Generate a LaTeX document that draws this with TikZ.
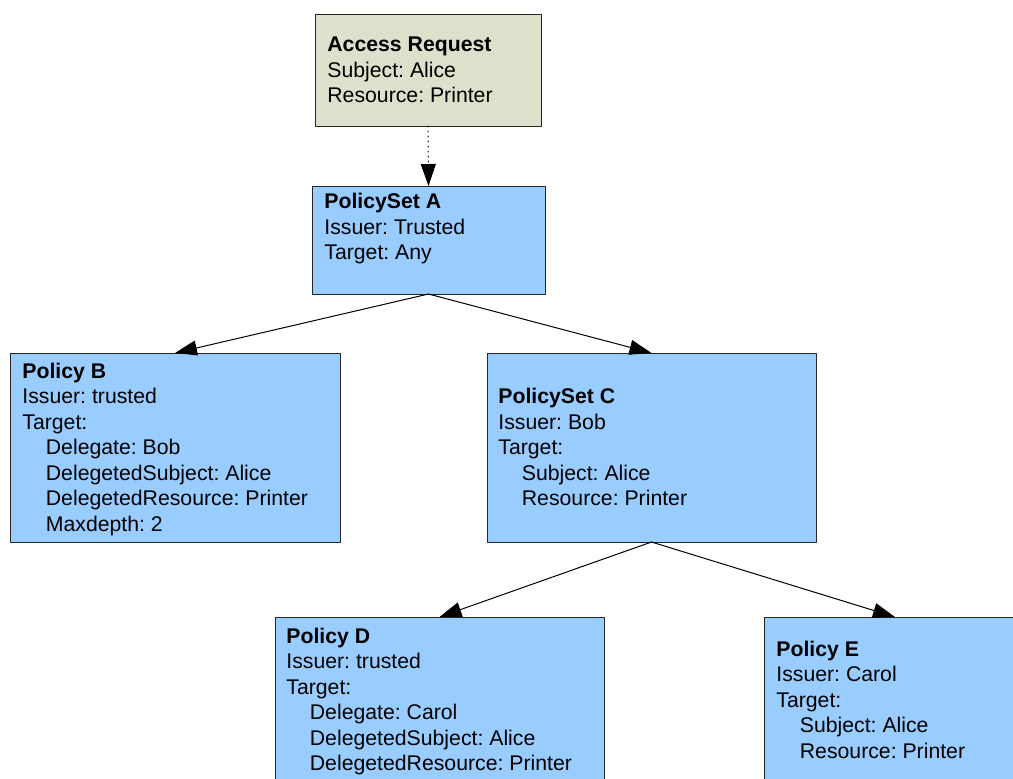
\documentclass[tikz,border=0pt]{standalone}
\usepackage{fontspec}
\setmainfont{Liberation Sans}
\usetikzlibrary{arrows.meta}
\definecolor{reqfill}{RGB}{221,225,203}
\definecolor{polfill}{RGB}{153,204,255}
\newcommand{\indt}{\hspace*{11.75pt}}
\frenchspacing
\begin{document}
\begin{tikzpicture}[line cap=round,line join=round,>={Triangle[length=11pt,width=7.5pt]},x=0.5pt,y=-0.5pt,
	box/.style={draw=black!85,line width=0.5pt,fill=polfill,inner sep=0pt,outer sep=0pt},
	txt/.style={anchor=north west,align=left,inner sep=0pt,font=\fontsize{10.62}{12.75}\selectfont},
	link/.style={->,line width=0.5pt}]
	\clip (0,0) rectangle (1013,778);
	% boxes
	\node[box,fill=reqfill,minimum width=113pt,minimum height=56pt] (req) at (428,70) {};
	\node[box,minimum width=116.5pt,minimum height=54pt] (psA) at (428.5,240) {};
	\node[box,minimum width=165pt,minimum height=94.5pt] (polB) at (175,447.5) {};
	\node[box,minimum width=164.5pt,minimum height=94.5pt] (psC) at (651.5,447.5) {};
	\node[box,minimum width=164.5pt,minimum height=94.5pt] (polD) at (439.5,711.5) {};
	\node[box,minimum width=131pt,minimum height=82pt] (polE) at (895,699) {};
	% texts
	\node[txt] (reqT) at ([shift={(12,22.5)}]req.north west) {\textbf{Access Request}\\Subject: Alice\\Resource: Printer};
	\node[txt] (psAT) at ([shift={(12,7)}]psA.north west) {\textbf{PolicySet A}\\Issuer: Trusted\\Target: Any};
	\node[txt] (polBT) at ([shift={(12,9.5)}]polB.north west) {\textbf{Policy B}\\Issuer: trusted\\Target:\\\indt Delegate: Bob\\\indt DelegetedSubject: Alice\\\indt DelegetedResource: Printer\\\indt Maxdepth: 2};
	\node[txt] (psCT) at ([shift={(11,35)}]psC.north west) {\textbf{PolicySet C}\\Issuer: Bob\\Target:\\\indt Subject: Alice\\\indt Resource: Printer};
	\node[txt] (polDT) at ([shift={(11,10.5)}]polD.north west) {\textbf{Policy D}\\Issuer: trusted\\Target:\\\indt Delegate: Carol\\\indt DelegetedSubject: Alice\\\indt DelegetedResource: Printer};
	\node[txt] (polET) at ([shift={(12,23.5)}]polE.north west) {\textbf{Policy E}\\Issuer: Carol\\Target:\\\indt Subject: Alice\\\indt Resource: Printer};
	% links
	\draw[link,dotted] (req.south) -- (psA.north);
	\draw[link] (psA.south) -- (polB.north);
	\draw[link] (psA.south) -- (psC.north);
	\draw[link] (psC.south) -- (polD.north);
	\draw[link] (psC.south) -- (polE.north);
\end{tikzpicture}
\end{document}
